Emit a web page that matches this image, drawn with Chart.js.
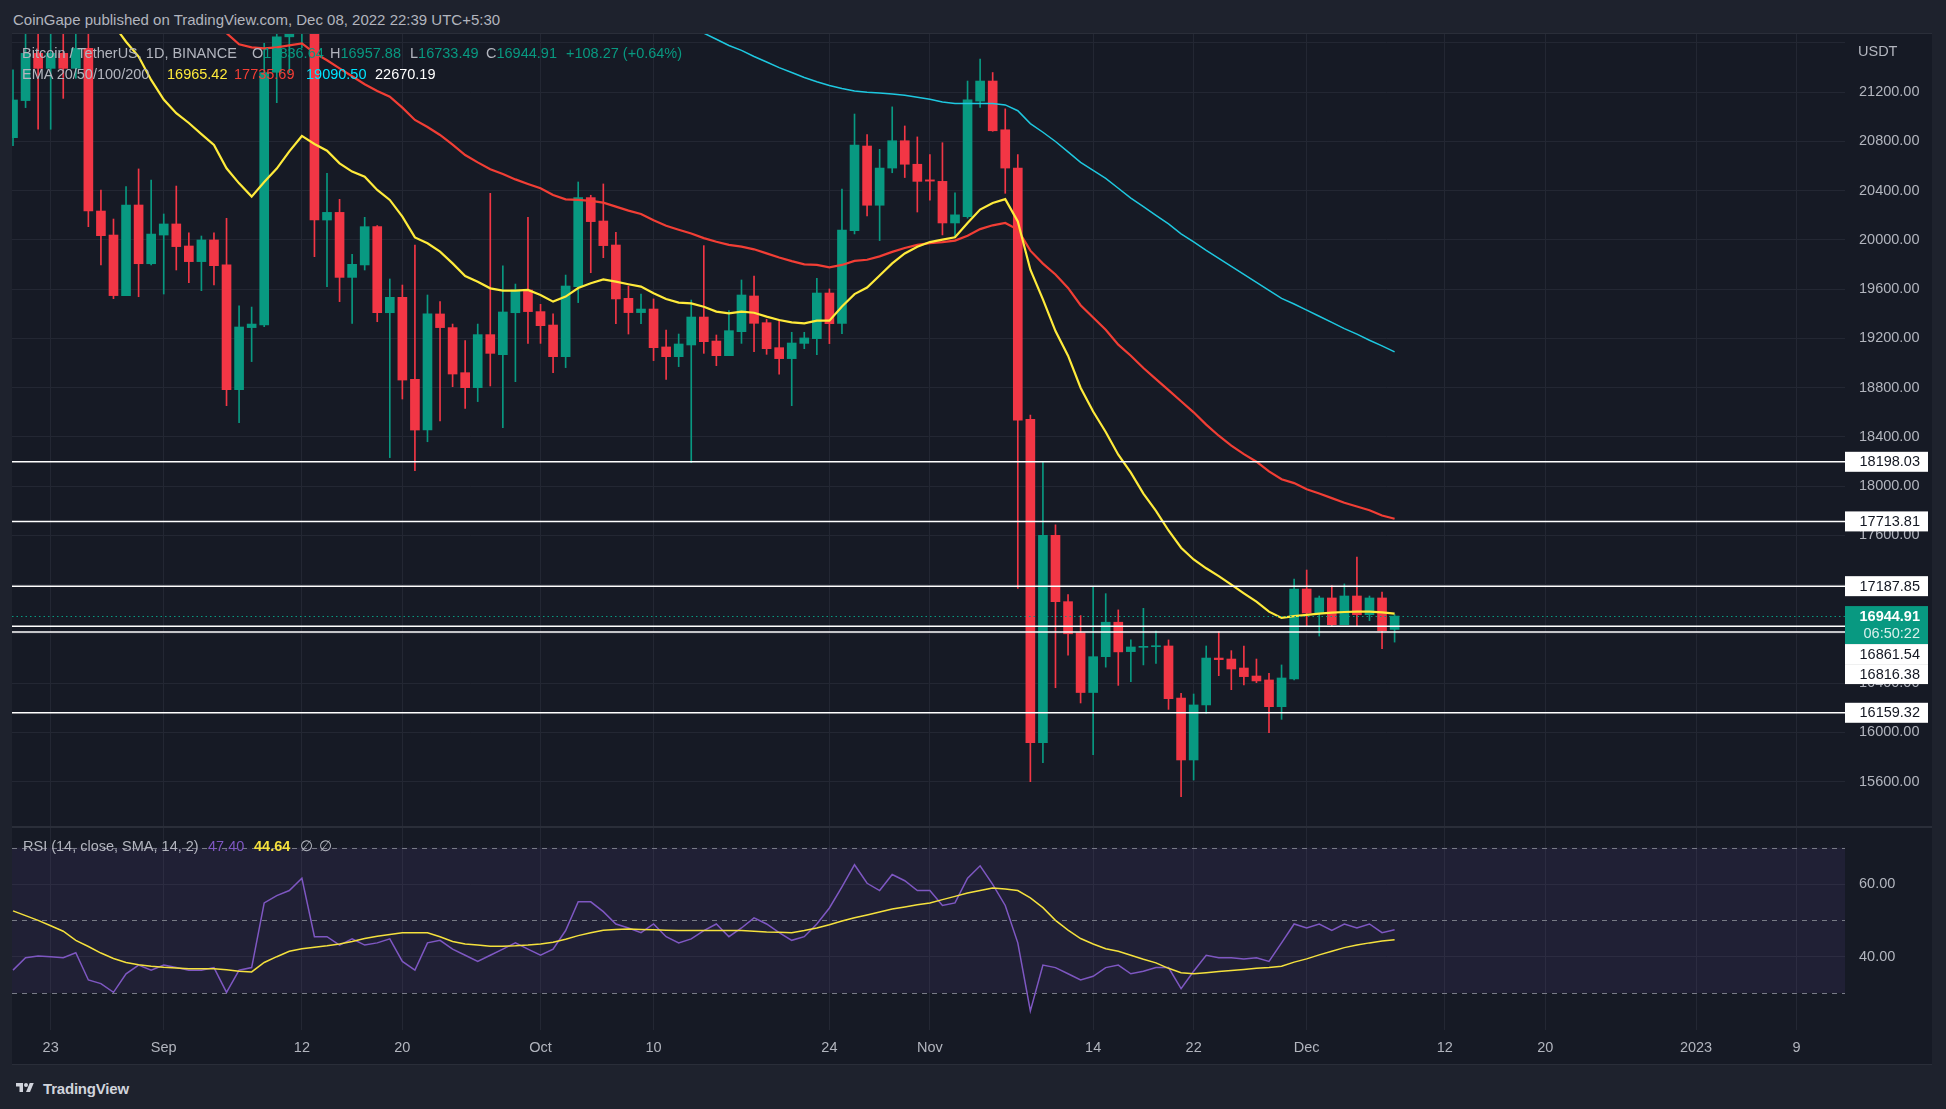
<!DOCTYPE html>
<html><head><meta charset="utf-8">
<title>Bitcoin / TetherUS 1D</title>
<script src="https://cdn.jsdelivr.net/npm/chart.js@4.4.1/dist/chart.umd.min.js"></script>
<style>
html,body{margin:0;padding:0;}
body{width:1946px;height:1109px;background:#1e222d;position:relative;overflow:hidden;font-family:"Liberation Sans",Arial,Helvetica,sans-serif;}
#frame{position:absolute;left:12px;top:33px;width:1920px;height:1032px;background:#2a2e39;}
canvas{position:absolute;display:block;}
#cMain{left:12px;top:34px;}
#cRsi{left:12px;top:828px;}
.t{position:absolute;white-space:pre;font-size:14.5px;line-height:16px;color:#b2b5be;}
.g{color:#089981;}
#foot{position:absolute;left:12px;top:1079px;height:18px;display:flex;align-items:center;}
#foot span{color:#d1d4dc;font-size:15px;font-weight:bold;margin-left:5px;letter-spacing:-0.2px;}
</style></head>
<body>
<div id="frame"></div>
<canvas id="cMain" width="1920" height="792"></canvas>
<canvas id="cRsi" width="1920" height="236"></canvas>

<div class="t" style="left:13px;top:11px;font-size:15px;line-height:18px;">CoinGape published on TradingView.com, Dec 08, 2022 22:39 UTC+5:30</div>
<div class="t" style="left:1858px;top:43px;">USDT</div>
<div id="foot"><svg width="26" height="14" viewBox="0 0 36 28"><path d="M14 22H7V11H0V4h14v18z" fill="#d1d4dc"/><circle cx="20" cy="8" r="4" fill="#d1d4dc"/><path d="M28 22h-8l7.5-18h8L28 22z" fill="#d1d4dc"/></svg><span>TradingView</span></div>

<script>
// ---------------- DATA (day index 0 = 2022-08-20, 110 = 2022-12-08) ----------------
const OPEN  = [20831,21132,21516,21394,21516,21394,21556,20235,20040,19548,
               20284,19807,20040,20130,19951,19824,20000,19797,18784,19288,
               19309,21362,21650,21826,22395,20162,20224,19696,19797,20108,
               19409,19534,18868,18456,19399,19288,18922,18800,19231,19068,
               19409,19594,19418,19309,19052,19621,20344,20154,19959,19526,
               19410,19439,19131,19052,19147,19374,19179,19060,19255,19545,
               19328,19125,19036,19160,19198,19569,19323,20076,20763,20282,
               20584,20806,20615,20488,20476,20138,20189,21128,21291,20895,
               20584,18544,15917,17601,17062,16809,16324,16615,16895,16656,
               16691,16696,16702,16279,15776,16223,16604,16596,16523,16458,
               16426,16209,16434,17165,16970,17092,16875,17108,16956,17092,16836.64];
const HIGH  = [21381,21800,21700,21690,21900,21820,21870,20406,20170,20433,
               20577,20487,20211,20438,20057,20032,20057,20176,19464,19455,
               21597,21800,21860,22488,22800,20541,20330,19883,20184,20117,
               19683,19634,19959,19553,19499,19317,19182,19317,20379,19789,
               19642,20184,19477,19399,19715,20471,20363,20455,20062,19626,
               19561,19521,19269,19236,19512,19954,19228,19426,19675,19707,
               19355,19355,19250,19250,19688,19602,20414,21023,20856,20736,
               21081,20926,20837,20693,20790,20383,21291,21469,21360,21065,
               20693,18578,18198,17686,17120,16949,17182,17127,16995,16751,
               17008,16824,16751,16317,16312,16702,16818,16664,16702,16596,
               16480,16548,17246,17319,17108,17192,17206,17425,17108,17140,16957.88];
const LOW   = [20766,21075,20899,20899,21150,21313,20108,19797,19523,19548,
               19539,19797,19561,19756,19653,19588,19634,18654,18516,19012,
               19296,21115,21360,21560,19864,19621,19499,19323,19756,19336,
               18232,18708,18126,18361,18530,18808,18632,18687,18814,18475,
               18849,19160,19160,18922,18963,19491,19734,19856,19320,19236,
               19320,19020,18868,18971,18191,19079,18979,19060,19160,19093,
               19071,18909,18654,19117,19068,19158,19239,20049,20196,19995,
               20546,20507,20227,20324,20041,20022,20177,21077,20883,20379,
               17170,15599,15754,16363,16627,16239,15820,16530,16382,16412,
               16548,16561,16187,15478,15613,16155,16461,16347,16385,16404,
               15998,16106,16426,16859,16783,16859,16875,16867,16908,16680,16733.49];
const CLOSE = [21137,21516,21394,21516,21394,21556,20235,20035,19548,20284,
               19807,20048,20130,19946,19824,20000,19791,18784,19293,19317,
               21360,21650,21826,22395,20162,20224,19696,19802,20108,19409,
               19534,18862,18456,19399,19288,18911,18800,19231,19079,19415,
               19594,19418,19304,19052,19626,20344,20149,19954,19521,19410,
               19439,19125,19052,19155,19374,19174,19060,19263,19553,19323,
               19117,19036,19163,19204,19569,19320,20081,20771,20282,20584,
               20806,20615,20476,20478,20138,20204,21139,21291,20887,20584,
               18536,15917,17601,17062,16801,16324,16615,16895,16654,16694,
               16699,16702,16274,15776,16223,16604,16591,16515,16453,16418,
               16209,16442,17165,16970,17092,16875,17108,16956,17092,16826,16944.91];

const EMA20 = [22750,22620,22500,22380,22260,22150,22040,21880,21750,21610,
               21490,21300,21140,21030,20950,20860,20771,20582,20460,20352,
               20470,20580,20720,20845,20780,20725,20622,20555,20514,20406,
               20325,20189,20021,19973,19905,19810,19707,19661,19607,19588,
               19588,19594,19553,19499,19540,19610,19648,19680,19661,19640,
               19621,19567,19521,19491,19485,19458,19418,19404,19418,19409,
               19377,19350,19331,19323,19344,19344,19460,19560,19614,19711,
               19810,19890,19945,19983,20003,20022,20138,20247,20301,20332,
               20150,19758,19517,19260,19060,18800,18606,18440,18256,18110,
               17940,17800,17640,17500,17405,17333,17270,17200,17130,17062,
               16981,16930,16945,16954,16965,16973,16978,16981,16981,16975,16965.42];
const EMA50 = [22650,22600,22550,22500,22450,22400,22340,22280,22220,22160,
               22090,22020,21950,21880,21820,21770,21720,21680,21590,21565,
               21557,21565,21580,21597,21520,21460,21394,21330,21265,21210,
               21164,21075,20975,20918,20853,20775,20690,20630,20575,20535,
               20492,20455,20420,20365,20330,20325,20318,20303,20271,20238,
               20211,20160,20116,20083,20052,20015,19985,19960,19946,19924,
               19891,19858,19828,19802,19797,19778,19797,19830,19839,19867,
               19903,19935,19960,19975,19982,19995,20035,20088,20119,20138,
               20085,19913,19808,19720,19610,19470,19370,19270,19150,19060,
               18960,18870,18780,18690,18600,18500,18410,18330,18260,18199,
               18120,18056,18025,17975,17940,17903,17865,17835,17805,17762,17735.69];
const EMA100_START = 50;
const EMA100 = [21900,21860,21820,21780,21730,21680,21630,21580,21540,21490,
                21446,21400,21360,21320,21285,21255,21230,21210,21200,21194,
                21186,21175,21160,21143,21120,21108,21108,21108,21108,21097,
                21050,20945,20875,20800,20715,20630,20565,20500,20420,20340,
                20270,20200,20130,20050,19984,19915,19850,19785,19720,19655,
                19590,19525,19480,19430,19380,19330,19280,19235,19185,19140,19090.50];
const EMA200_LAST = 22670.19;

const RSI = [36.3,39.7,40.2,40.0,39.7,41.1,33.6,32.6,30.2,35.3,
             37.7,36.3,37.7,37.0,36.3,36.3,37.0,30.2,36.3,37.0,
             54.8,56.8,58.2,61.6,45.5,45.5,43.2,44.9,43.2,43.8,
             44.9,38.7,36.3,43.8,44.5,42.1,40.4,38.7,40.4,42.1,
             43.8,42.1,40.4,42.1,47.2,55.1,55.1,52.4,49.0,47.9,
             46.6,49.0,45.5,43.8,44.9,47.2,49.0,45.5,47.9,50.7,
             49.0,46.6,44.5,45.5,49.0,53.4,59.2,65.3,60.2,58.2,
             62.6,60.9,58.2,58.2,54.1,54.8,61.6,65.0,59.9,54.1,
             43.8,25.1,37.7,37.0,35.3,33.6,34.6,37.0,37.7,35.3,
             36.0,37.0,37.0,31.2,36.0,40.4,39.7,39.7,39.4,39.7,
             38.7,43.8,49.0,47.9,49.0,47.2,49.0,47.9,49.0,46.6,47.40];
const RSI_SMA = [52.6,51.3,50.0,48.5,47.0,44.5,42.8,41.0,39.5,38.4,
                 37.8,37.4,37.1,36.9,36.7,36.7,36.7,36.4,36.0,35.8,
                 38.4,40.0,41.5,42.2,42.6,43.0,43.5,44.2,45.0,45.6,
                 46.1,46.6,46.6,46.6,45.5,44.2,43.5,43.2,42.9,42.9,
                 43.0,43.2,43.5,44.0,44.8,45.8,46.6,47.3,47.5,47.6,
                 47.5,47.4,47.3,47.2,47.2,47.2,47.2,47.2,47.2,47.0,
                 46.8,46.7,46.6,47.2,47.9,48.8,49.8,50.7,51.5,52.3,
                 53.1,53.7,54.3,54.8,55.7,56.6,57.5,58.2,58.9,58.6,
                 58.2,56.2,53.5,50.0,47.3,45.0,43.5,42.2,41.5,40.4,
                 39.3,38.3,36.8,35.6,35.3,35.6,35.9,36.2,36.5,36.8,
                 37.0,37.4,38.5,39.4,40.5,41.5,42.5,43.2,43.8,44.3,44.64];

const LEVELS = [18198.03, 17713.81, 17187.85, 16861.54, 16816.38, 16159.32];
const COUNTDOWN = '06:50:22';
const CHANGE = '+108.27 (+0.64%)';

const TICK_DAYS   = [3,12,23,31,42,51,65,73,86,94,103,114,122,134,142];
const TICK_LABELS = ['23','Sep','12','20','Oct','10','24','Nov','14','22','Dec','12','20','2023','9'];
const PRICE_TICKS = [15600,16000,16400,16800,17200,17600,18000,18400,18800,19200,19600,20000,20400,20800,21200,21600];
const RSI_TICKS   = [40,60];
const RSI_BANDS   = [70,50,30];

// ---------------- STYLE ----------------
const FONT = '"Liberation Sans", Arial, Helvetica, sans-serif';
const UP = '#089981', DOWN = '#f23645';
const PANE = '#161a25', GRID = '#232733', TXT = '#b2b5be';
const XMIN = -0.08, XMAX = 145.86;
const YMIN = 15239.7, YMAX = 21673;
const RSI_MIN = 19.83, RSI_MAX = 75.41;

const N = OPEN.length;
const DAYS = OPEN.map((_, i) => i);
const colorOf = i => (CLOSE[i] >= OPEN[i] ? UP : DOWN);
const LAST = CLOSE[N - 1];

// ---------------- LEGENDS (real text) ----------------
function put(left, top, html) {
  const d = document.createElement('div');
  d.className = 't';
  d.style.left = left + 'px'; d.style.top = top + 'px';
  d.innerHTML = html;
  document.body.appendChild(d);
}
put(22, 45, 'Bitcoin / TetherUS, 1D, BINANCE');
put(252, 45, 'O<span class="g">' + OPEN[N-1].toFixed(2) + '</span>');
put(330, 45, 'H<span class="g">' + HIGH[N-1].toFixed(2) + '</span>');
put(410, 45, 'L<span class="g">' + LOW[N-1].toFixed(2) + '</span>');
put(486, 45, 'C<span class="g">' + CLOSE[N-1].toFixed(2) + '</span>');
put(566, 45, '<span class="g">' + CHANGE + '</span>');
put(22, 66, 'EMA 20/50/100/200');
put(167, 66, '<span style="color:#ffeb3b">' + EMA20[N-1].toFixed(2) + '</span>');
put(234, 66, '<span style="color:#f23e35">' + EMA50[N-1].toFixed(2) + '</span>');
put(306, 66, '<span style="color:#00e5ff">' + EMA100[EMA100.length-1].toFixed(2) + '</span>');
put(375, 66, '<span style="color:#ffffff">' + EMA200_LAST.toFixed(2) + '</span>');
put(23, 838, 'RSI (14, close, SMA, 14, 2)');
put(208, 838, '<span style="color:#7e57c2">' + RSI[N-1].toFixed(2) + '</span>');
put(254, 838, '<span style="color:#f5e13d;font-weight:bold">' + RSI_SMA[N-1].toFixed(2) + '</span>');
put(300, 838, '\u2205');
put(319, 838, '\u2205');

// ---------------- PLUGINS ----------------
const bgPlugin = {
  id: 'bg',
  beforeDraw(chart) {
    const c = chart.ctx;
    c.save(); c.fillStyle = PANE; c.fillRect(0, 0, chart.width, chart.height); c.restore();
  }
};

const levelPlugin = {
  id: 'levels',
  afterDatasetsDraw(chart) {
    const { ctx, chartArea: a, scales: { y } } = chart;
    ctx.save();
    ctx.strokeStyle = '#ffffff'; ctx.lineWidth = 1.5;
    LEVELS.forEach(v => {
      const py = y.getPixelForValue(v);
      ctx.beginPath(); ctx.moveTo(a.left, py); ctx.lineTo(a.right, py); ctx.stroke();
    });
    const pc = Math.round(y.getPixelForValue(LAST)) + 0.5;
    ctx.setLineDash([1.5, 3]); ctx.lineWidth = 1; ctx.strokeStyle = UP;
    ctx.beginPath(); ctx.moveTo(a.left, pc); ctx.lineTo(a.right, pc); ctx.stroke();
    ctx.setLineDash([]);

    const items = [{ v: LAST, cur: true, h: 38 }].concat(LEVELS.map(v => ({ v, h: 20 })));
    items.forEach(it => { it.py = y.getPixelForValue(it.v); it.top = it.py - 10; });
    items.sort((p, q) => p.py - q.py);
    let prev = -1e9;
    items.forEach(it => { if (it.top < prev) it.top = prev; prev = it.top + it.h; });
    const x0 = a.right, w = 83;
    ctx.textAlign = 'right'; ctx.textBaseline = 'middle';
    items.forEach(it => {
      if (it.cur) {
        ctx.fillStyle = UP; ctx.fillRect(x0, it.top, w, it.h);
        ctx.fillStyle = '#ffffff'; ctx.font = 'bold 14.5px ' + FONT;
        ctx.fillText(it.v.toFixed(2), x0 + 75, it.top + 10.5);
        ctx.fillStyle = 'rgba(255,255,255,0.85)'; ctx.font = '14.5px ' + FONT;
        ctx.fillText(COUNTDOWN, x0 + 75, it.top + 28);
      } else {
        ctx.fillStyle = '#ffffff'; ctx.fillRect(x0, it.top, w, it.h);
        ctx.fillStyle = '#131722'; ctx.font = '14.5px ' + FONT;
        ctx.fillText(it.v.toFixed(2), x0 + 75, it.top + 10.5);
      }
    });
    ctx.restore();
  }
};

const bandPlugin = {
  id: 'band',
  beforeDatasetsDraw(chart) {
    const { ctx, chartArea: a, scales: { y } } = chart;
    const y70 = y.getPixelForValue(RSI_BANDS[0]), y30 = y.getPixelForValue(RSI_BANDS[2]);
    ctx.save();
    ctx.fillStyle = 'rgba(126,87,194,0.1)';
    ctx.fillRect(a.left, y70, a.right - a.left, y30 - y70);
    ctx.strokeStyle = '#787b86'; ctx.lineWidth = 1; ctx.setLineDash([5, 5]);
    RSI_BANDS.forEach(v => {
      const py = Math.round(y.getPixelForValue(v)) + 0.5;
      ctx.beginPath(); ctx.moveTo(a.left, py); ctx.lineTo(a.right, py); ctx.stroke();
    });
    ctx.restore();
  }
};

// ---------------- SCALES ----------------
function xScale(extra) {
  return Object.assign({
    type: 'linear', min: XMIN, max: XMAX, offset: false,
    afterBuildTicks: s => { s.ticks = TICK_DAYS.map(v => ({ value: v })); },
    grid: { color: GRID, drawTicks: false, offset: false },
    border: { display: false }
  }, extra);
}
function yScale(min, max, ticks, fmt) {
  return {
    position: 'right', min, max,
    afterBuildTicks: s => { s.ticks = ticks.map(v => ({ value: v })); },
    ticks: { color: TXT, font: { size: 14.5, family: FONT }, padding: 14, callback: fmt },
    grid: { color: GRID, drawTicks: false },
    border: { display: false },
    afterFit: s => { s.width = 87; s.paddingTop = 0; s.paddingBottom = 0; }
  };
}

// ---------------- MAIN PRICE CHART ----------------
new Chart(document.getElementById('cMain'), {
  type: 'bar',
  data: {
    datasets: [
      { type: 'line', label: 'EMA 20', data: EMA20.map((v, i) => ({ x: i, y: v })),
        borderColor: '#ffeb3b', borderWidth: 2.2, pointRadius: 0, tension: 0, order: 1 },
      { type: 'line', label: 'EMA 50', data: EMA50.map((v, i) => ({ x: i, y: v })),
        borderColor: '#f23e35', borderWidth: 2.2, pointRadius: 0, tension: 0, order: 2 },
      { type: 'line', label: 'EMA 100', data: EMA100.map((v, i) => ({ x: i + EMA100_START, y: v })),
        borderColor: '#1ec8e0', borderWidth: 1.5, pointRadius: 0, tension: 0, order: 3 },
      { type: 'bar', label: 'body', data: DAYS.map(i => ({ x: i, y: [OPEN[i], CLOSE[i]] })),
        backgroundColor: DAYS.map(colorOf), borderWidth: 0, barThickness: 9, minBarLength: 1,
        grouped: false, order: 4 },
      { type: 'bar', label: 'wick', data: DAYS.map(i => ({ x: i, y: [LOW[i], HIGH[i]] })),
        backgroundColor: DAYS.map(colorOf), borderWidth: 0, barThickness: 1, minBarLength: 1,
        grouped: false, order: 5 }
    ]
  },
  options: {
    responsive: false, animation: false, devicePixelRatio: 1, events: [],
    layout: { padding: 0 },
    plugins: { legend: { display: false }, tooltip: { enabled: false } },
    scales: {
      x: xScale({ ticks: { display: false },
                  afterFit: s => { s.height = 0; s.paddingLeft = 0; s.paddingRight = 0; } }),
      y: yScale(YMIN, YMAX, PRICE_TICKS,
                v => (v === PRICE_TICKS[PRICE_TICKS.length - 1] ? '' : Number(v).toFixed(2)))
    }
  },
  plugins: [bgPlugin, levelPlugin]
});

// ---------------- RSI CHART ----------------
new Chart(document.getElementById('cRsi'), {
  type: 'line',
  data: {
    datasets: [
      { label: 'RSI-based MA', data: RSI_SMA.map((v, i) => ({ x: i, y: v })),
        borderColor: '#f5e13d', borderWidth: 1.5, pointRadius: 0, tension: 0, order: 1 },
      { label: 'RSI', data: RSI.map((v, i) => ({ x: i, y: v })),
        borderColor: '#7e57c2', borderWidth: 1.5, pointRadius: 0, tension: 0, order: 2 }
    ]
  },
  options: {
    responsive: false, animation: false, devicePixelRatio: 1, events: [],
    layout: { padding: 0 },
    plugins: { legend: { display: false }, tooltip: { enabled: false } },
    scales: {
      x: xScale({
        ticks: { color: TXT, font: { size: 14.5, family: FONT }, padding: 9, maxRotation: 0, autoSkip: false,
                 callback: v => { const k = TICK_DAYS.indexOf(v); return k >= 0 ? TICK_LABELS[k] : ''; } },
        afterFit: s => { s.height = 34; s.paddingLeft = 0; s.paddingRight = 0; }
      }),
      y: yScale(RSI_MIN, RSI_MAX, RSI_TICKS, v => Number(v).toFixed(2))
    }
  },
  plugins: [bgPlugin, bandPlugin]
});
</script>
</body></html>
